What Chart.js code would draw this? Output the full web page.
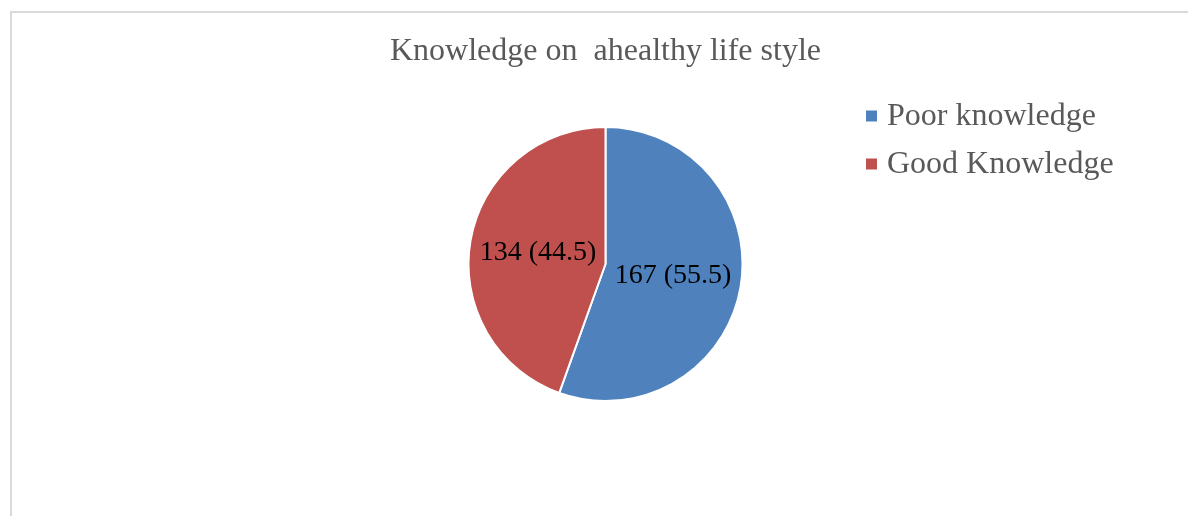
<!DOCTYPE html>
<html>
<head>
<meta charset="utf-8">
<script src="https://cdn.jsdelivr.net/npm/chart.js@4.4.0/dist/chart.umd.min.js"></script>
<style>
  html, body { margin: 0; padding: 0; background: #fff; }
  #frame {
    position: absolute; left: 10px; top: 11px; width: 1200px; height: 520px;
    border-top: 2px solid #d9d9d9; border-left: 2px solid #d9d9d9;
  }
  #wrap { position: absolute; left: 0; top: 0; width: 1188px; height: 516px; }
</style>
</head>
<body>
<div id="frame"></div>
<div id="wrap"><canvas id="pie" width="1188" height="516"></canvas></div>
<script>
const categories = ['Poor knowledge', 'Good Knowledge'];
const counts = [167, 134];
const percents = [55.5, 44.5];
const colors = ['#4f81bd', '#c0504d'];
const titleText = 'Knowledge on  ahealthy life style';

const serif = '"Liberation Serif", "Times New Roman", serif';

// value labels inside slices: "count (percent)"
const sliceLabels = {
    id: 'sliceLabels',
    afterDatasetsDraw(chart) {
        const ctx = chart.ctx;
        const meta = chart.getDatasetMeta(0);
        ctx.save();
        ctx.font = '28px ' + serif;
        ctx.fillStyle = '#000';
        ctx.textAlign = 'center';
        ctx.textBaseline = 'middle';
        meta.data.forEach((arc, i) => {
            const p = arc.tooltipPosition();
            ctx.fillText(counts[i] + ' (' + percents[i] + ')', p.x, p.y);
        });
        ctx.restore();
    }
};

// legend on the right, as in the office chart
const sideLegend = {
    id: 'sideLegend',
    afterDraw(chart) {
        const ctx = chart.ctx;
        const ds = chart.data.datasets[0];
        ctx.save();
        ctx.font = '32px ' + serif;
        ctx.textBaseline = 'middle';
        chart.data.labels.forEach((lab, i) => {
            const y = 116 + i * 48;
            ctx.fillStyle = ds.backgroundColor[i];
            ctx.fillRect(866, y - 5.5, 11, 11);
            ctx.fillStyle = '#595959';
            ctx.fillText(lab, 887, y + 1);
        });
        ctx.restore();
    }
};

new Chart(document.getElementById('pie'), {
    type: 'pie',
    data: {
        labels: categories,
        datasets: [{
            data: counts,
            backgroundColor: colors,
            borderColor: '#ffffff',
            borderWidth: 2
        }]
    },
    options: {
        responsive: false,
        animation: false,
        layout: { padding: { left: 300, right: 277, top: 0, bottom: 114 } },
        plugins: {
            legend: { display: false },
            tooltip: { enabled: false },
            title: {
                display: true,
                text: titleText,
                color: '#595959',
                font: { family: serif, size: 32, weight: 'normal' },
                padding: { top: 32, bottom: 55.6 }
            }
        }
    },
    plugins: [sliceLabels, sideLegend]
});
</script>
</body>
</html>
